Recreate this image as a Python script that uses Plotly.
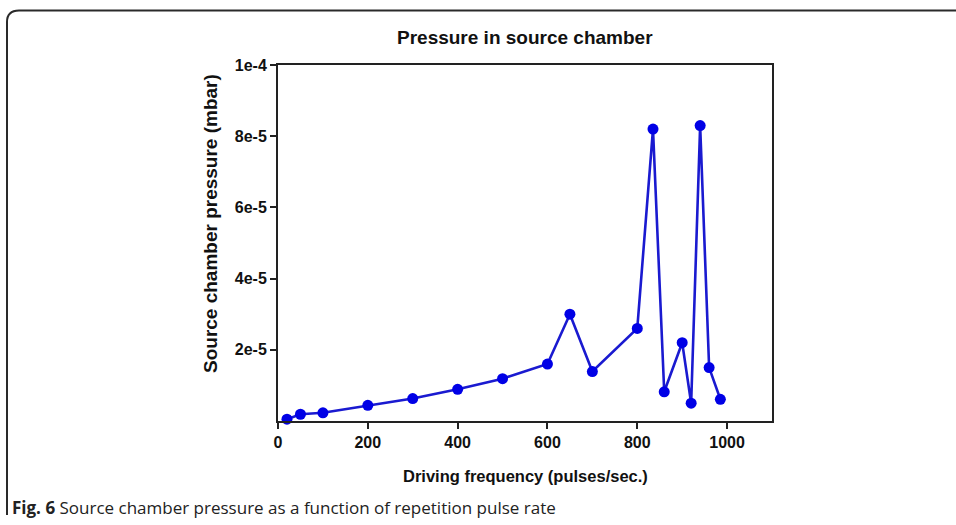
import plotly.graph_objects as go

# Driving frequency (pulses/sec.) and measured source chamber pressure (mbar)
frequency = [20, 50, 100, 200, 300, 400, 500, 600, 650, 700, 800, 835, 860, 900, 920, 940, 960, 985]
pressure = [5e-7, 1.9e-6, 2.3e-6, 4.4e-6, 6.3e-6, 8.9e-6, 1.19e-5, 1.6e-5, 3.0e-5, 1.39e-5,
            2.6e-5, 8.2e-5, 8.2e-6, 2.2e-5, 5.0e-6, 8.3e-5, 1.5e-5, 6.1e-6]

x_tick_vals = [0, 200, 400, 600, 800, 1000]
x_tick_text = ["0", "200", "400", "600", "800", "1000"]
y_tick_vals = [2e-5, 4e-5, 6e-5, 8e-5, 1e-4]
y_tick_text = ["2e-5", "4e-5", "6e-5", "8e-5", "1e-4"]

W, H = 956, 525
ML, MR, MT, MB = 278, 184, 65, 104
PW, PH = W - ML - MR, H - MT - MB


def px(x):
    return (x - ML) / PW


def py(y):
    return (H - MB - y) / PH


FONT = "Liberation Sans, Arial, sans-serif"

fig = go.Figure()
fig.add_trace(go.Scatter(
    x=frequency, y=pressure, mode="lines+markers",
    line=dict(color="#1a1ad0", width=2.6),
    marker=dict(color="#0000e6", size=11, line=dict(width=0)),
    cliponaxis=False, showlegend=False,
))

axis_common = dict(showline=True, linecolor="#222222", linewidth=2, mirror=True,
                   ticks="outside", ticklen=6, tickwidth=1.5, tickcolor="#222222",
                   showgrid=False, zeroline=False,
                   tickfont=dict(family=FONT, size=16, color="#111111", weight="bold"))

fig.update_xaxes(range=[0, 1100], tickvals=x_tick_vals, ticktext=x_tick_text, **axis_common)
fig.update_yaxes(range=[0, 1e-4], tickvals=y_tick_vals, ticktext=y_tick_text, **axis_common)

# Outer figure frame with rounded top-left corner
frame_path = (f"M {px(7)},{py(515)} L {px(7)},{py(22)} "
              f"Q {px(7)},{py(10.5)} {px(19)},{py(10.5)} L {px(970)},{py(10.5)}")

fig.update_layout(
    width=W, height=H,
    margin=dict(l=ML, r=MR, t=MT, b=MB),
    paper_bgcolor="white", plot_bgcolor="white",
    shapes=[dict(type="path", path=frame_path, xref="paper", yref="paper",
                 line=dict(color="#2a2a2a", width=2))],
    annotations=[
        dict(text="Pressure in source chamber", x=0.5, y=py(37), xref="paper", yref="paper",
             xanchor="center", yanchor="middle", showarrow=False,
             font=dict(family=FONT, size=19, color="#111111", weight="bold")),
        dict(text="Source chamber pressure (mbar)", x=px(210), y=py(224), xref="paper", yref="paper",
             xanchor="center", yanchor="middle", textangle=-90, showarrow=False,
             font=dict(family=FONT, size=19, color="#111111", weight="bold")),
        dict(text="Driving frequency (pulses/sec.)", x=0.5, y=py(476), xref="paper", yref="paper",
             xanchor="center", yanchor="middle", showarrow=False,
             font=dict(family=FONT, size=16.5, color="#111111", weight="bold")),
        dict(text="<b>Fig. 6</b> Source chamber pressure as a function of repetition pulse rate",
             x=px(10), y=py(508), xref="paper", yref="paper",
             xanchor="left", yanchor="middle", showarrow=False,
             font=dict(family="Open Sans, sans-serif", size=17, color="#222222")),
    ],
)

fig.write_html("out.html")
